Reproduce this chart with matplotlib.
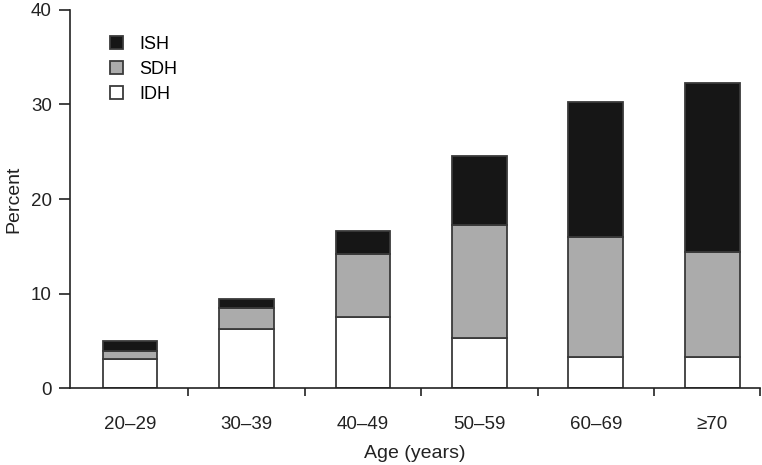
import numpy as np
import matplotlib.pyplot as plt

plt.rcParams['font.family'] = ['Liberation Sans', 'DejaVu Sans']

ages = ['20\u201329', '30\u201339', '40\u201349', '50\u201359', '60\u201369', '\u226570']
idh = [3.1, 6.25, 7.5, 5.3, 3.25, 3.25]
sdh_top = [3.95, 8.5, 14.2, 17.2, 16.0, 14.4]
total = [5.0, 9.45, 16.6, 24.5, 30.3, 32.3]

sdh = np.array(sdh_top) - np.array(idh)
ish = np.array(total) - np.array(sdh_top)

fig = plt.figure(figsize=(7.62, 4.65), dpi=100)
ax = fig.add_axes([70/762, 77/465, 690/762, 378/465])

x = np.arange(len(ages))
w = 0.47
ec = '#3a3a3a'
b_idh = ax.bar(x, idh, w, color='white', edgecolor=ec, linewidth=1.3, label='IDH')
b_sdh = ax.bar(x, sdh, w, bottom=idh, color='#ababab', edgecolor=ec, linewidth=1.3, label='SDH')
b_ish = ax.bar(x, ish, w, bottom=sdh_top, color='#161616', edgecolor=ec, linewidth=1.3, label='ISH')

ax.set_xlim(-0.515, 5.41)
ax.set_ylim(0, 40)
ax.set_yticks([0, 10, 20, 30, 40])
ax.set_xticks(x)
ax.set_xticklabels(ages)
ax.set_xticks(list(np.arange(0.5, 5, 1)) + [5.41], minor=True)
ax.tick_params(axis='x', which='major', length=0, pad=20, labelsize=13.5, colors='#222222')
ax.tick_params(axis='x', which='minor', length=6, width=1.2, direction='out', color='#222222')
ax.tick_params(axis='y', length=8, width=1.2, pad=5, labelsize=13.5, colors='#222222')

for s in ['top', 'right']:
    ax.spines[s].set_visible(False)
for s in ['left', 'bottom']:
    ax.spines[s].set_linewidth(1.2)
    ax.spines[s].set_color('#222222')

ax.set_xlabel('Age (years)', fontsize=14, color='#222222', labelpad=9)
ax.set_ylabel('Percent', fontsize=14, color='#222222', labelpad=6)

ax.legend([b_ish, b_sdh, b_idh], ['ISH', 'SDH', 'IDH'], frameon=False,
          loc='upper left', bbox_to_anchor=(0.035, 0.975), fontsize=13,
          handlelength=0.7, handleheight=0.7, handletextpad=0.9, labelspacing=0.45)

plt.savefig('out.png', dpi=100)
